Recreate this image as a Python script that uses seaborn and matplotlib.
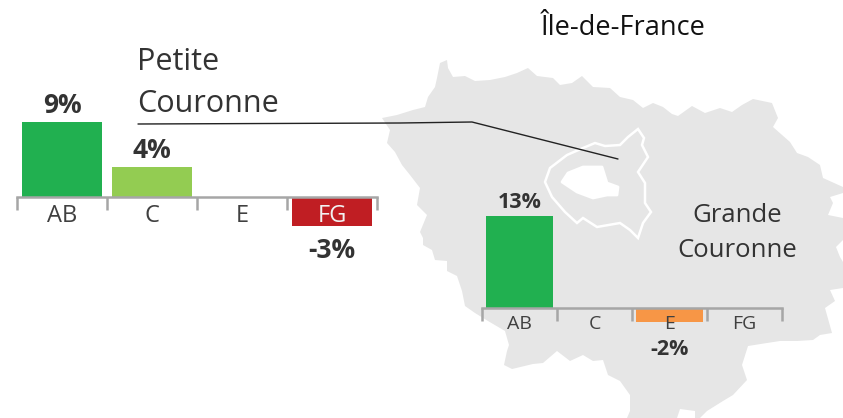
import matplotlib
matplotlib.use("Agg")
import matplotlib.pyplot as plt
from matplotlib.patches import Polygon
import pandas as pd
import seaborn as sns

sns.set_theme(style="white")
plt.rcParams['font.family'] = ['Open Sans', 'DejaVu Sans']

W, H = 843, 418

categories = ["AB", "C", "E", "FG"]
petite_values = [9.0, 3.6, 0, -3.45]
grande_values = [13.0, 0, -2.0, 0]
bar_colors = ["#21B050", "#93CC52", "#F79646", "#C01E23"]

# map outline, traced in picture pixels
region_pts = [(382, 118), (397, 115), (413, 110), (425, 107), (428, 97), (435, 87), (437, 78), (440, 63),
              (447, 60), (448, 68), (453, 77), (465, 76), (475, 81), (490, 80), (505, 77), (517, 73),
              (528, 68), (537, 76), (553, 78), (560, 85), (572, 83), (582, 76), (593, 87), (610, 88),
              (620, 97), (633, 100), (643, 108), (653, 103), (663, 107), (672, 114), (678, 116), (692, 106),
              (705, 113), (720, 108), (732, 112), (742, 105), (753, 99), (772, 103), (778, 118), (773, 127),
              (790, 142), (797, 153), (808, 157), (820, 165), (823, 178), (843, 187), (843, 193), (830, 197),
              (833, 203), (828, 215), (843, 218), (843, 240), (836, 247), (840, 257), (843, 262), (843, 288),
              (830, 290), (835, 301), (825, 308), (832, 333), (820, 335), (813, 340), (797, 341), (780, 341),
              (767, 343), (748, 346), (742, 365), (747, 380), (733, 395), (723, 401), (707, 411), (700, 418),
              (695, 418), (695, 411), (680, 409), (677, 418), (627, 418), (630, 411), (630, 395), (620, 381),
              (608, 375), (603, 360), (593, 361), (583, 355), (570, 361), (557, 351), (543, 363), (533, 364),
              (512, 369), (504, 365), (507, 351), (509, 345), (505, 331), (488, 321), (475, 313), (465, 306),
              (462, 291), (457, 276), (447, 271), (447, 261), (435, 260), (432, 250), (423, 245), (423, 238),
              (420, 232), (427, 215), (417, 205), (420, 188), (410, 175), (402, 165), (395, 152), (387, 143),
              (390, 130)]
ring_pts = [(638, 129), (644, 138), (642, 145), (648, 157), (638, 172), (645, 183), (645, 203), (651, 212),
            (643, 223), (638, 238), (630, 230), (620, 223), (597, 227), (583, 218), (577, 223), (565, 212),
            (552, 197), (545, 182), (550, 168), (567, 155), (583, 148), (595, 143), (605, 146), (620, 145),
            (628, 137)]
paris_pts = [(562, 182), (568, 173), (583, 167), (602, 167), (607, 183), (618, 187), (617, 195), (607, 195),
             (593, 198), (577, 192)]

# callout from the Petite Couronne label to the ring
callout_x = [138, 400, 472, 618]
callout_y = [124, 123, 122, 159]


def bar_chart(fig, values, x0, x1, base, px_per_pct, label_size, value_size, tick_len, label_pad, value_gap, white_label=None):
    top, bottom = base - 130, base + 70
    ax = fig.add_axes([x0 / W, 1 - bottom / H, (x1 - x0) / W, (bottom - top) / H])
    df = pd.DataFrame({"cat": categories, "val": values})
    sns.barplot(data=df, x="cat", y="val", hue="cat", order=categories, hue_order=categories,
                palette=dict(zip(categories, bar_colors)), width=0.885, legend=False, saturation=1,
                linewidth=0, ax=ax)
    ax.set_xlim(-0.5, 3.5)
    ax.set_ylim(-70 / px_per_pct, 130 / px_per_pct)
    ax.patch.set_alpha(0)
    ax.set_xlabel("")
    ax.set_ylabel("")
    ax.set_yticks([])
    ax.set_axisbelow(False)
    for s in ["top", "left", "right"]:
        ax.spines[s].set_visible(False)
    ax.spines["bottom"].set_position(("data", 0))
    ax.spines["bottom"].set_color("#A6A6A6")
    ax.spines["bottom"].set_linewidth(1.8)
    ax.set_xticks([-0.5, 0.5, 1.5, 2.5, 3.5], minor=True)
    ax.tick_params(axis="x", which="minor", length=tick_len, width=1.8, color="#A6A6A6", direction="out", bottom=True)
    ax.tick_params(axis="x", which="major", length=0, pad=label_pad, labelsize=label_size, labelcolor="#404040")
    ax.set_xticks(range(4))
    ax.set_xticklabels(categories)
    if white_label is not None:
        ax.get_xticklabels()[white_label].set_color("#F2F2F2")
    for i, v in enumerate(values):
        if v > 0:
            ax.annotate(f"{round(v)}%", (i, v), xytext=(0, 2), textcoords="offset points", ha="center", va="bottom",
                        fontsize=value_size, fontweight="bold", color="#333333")
        elif v < 0:
            ax.annotate(f"{round(v)}%", (i, v), xytext=(0, -value_gap), textcoords="offset points", ha="center", va="top",
                        fontsize=value_size, fontweight="bold", color="#333333")
    return ax


fig = plt.figure(figsize=(W / 100, H / 100), dpi=100)
bg = fig.add_axes([0, 0, 1, 1])
bg.set_xlim(0, W)
bg.set_ylim(H, 0)
bg.axis("off")
bg.add_patch(Polygon(region_pts, closed=True, facecolor="#E6E6E6", edgecolor="none"))
bg.add_patch(Polygon(ring_pts, closed=True, facecolor="none", edgecolor="white", linewidth=1.8))
bg.add_patch(Polygon(paris_pts, closed=True, facecolor="white", edgecolor="white", linewidth=2, joinstyle="round"))
bg.plot(callout_x, callout_y, color="#222222", linewidth=1)

bg.text(623, 28, "Île-de-France", ha="center", va="center", fontsize=19.5, color="#111111")
bg.text(137, 83, "Petite\nCouronne", ha="left", va="center", fontsize=22, color="#333333", linespacing=1.5)
bg.text(737, 233, "Grande\nCouronne", ha="center", va="center", fontsize=18.5, color="#333333", linespacing=1.55)

bar_chart(fig, petite_values, 17, 377, 197, 8.33, 17, 19, 9, 5, 8, white_label=3)
bar_chart(fig, grande_values, 482, 782, 308, 7.08, 14, 15.5, 9, 5, 12)

fig.savefig("out.png", dpi=100)
